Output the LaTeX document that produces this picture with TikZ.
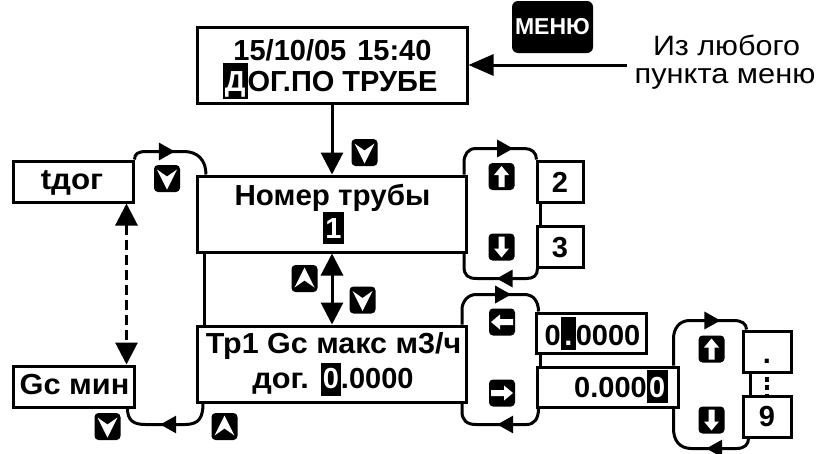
\documentclass[tikz,border=0pt]{standalone}
\usepackage{graphicx}
\usepackage{fontspec}
\setmainfont{Liberation Sans}
\usetikzlibrary{arrows.meta,calc,decorations.markings}
\newcommand\hlc[4]{\rlap{\rule[-#2]{#1}{\dimexpr#2+#3\relax}}\makebox[#1]{\color{white}#4}}
\newcommand\bigfont{\bfseries\fontsize{29}{31}\selectfont}
\newcommand\widen[2]{\scalebox{#1}[1]{#2}}
\begin{document}
\begin{tikzpicture}[x=1pt,y=-1pt,line width=3pt,
  box/.style={draw,line width=3pt,inner sep=0pt},
  txt/.style={anchor=base,inner sep=0pt,font=\bigfont},
  big/.style={-{Triangle[length=22pt,width=22pt]}},
  bigtwo/.style={{Triangle[length=22pt,width=22pt]}-{Triangle[length=22pt,width=22pt]}},
  la/.style={postaction={decorate,decoration={markings,mark=at position #1 with {\arrow{Triangle[length=16pt,width=17pt]}}}}},
  keybase/.style={fill=black,rounded corners=4pt,minimum width=26pt,minimum height=27pt,inner sep=0pt},
  kup/.style={keybase,path picture={\fill[white,sharp corners,shift={(path picture bounding box.center)}] (0,-10.5) -- (7.5,-1.5) -- (3,-1.5) -- (3,10.5) -- (-3,10.5) -- (-3,-1.5) -- (-7.5,-1.5) -- cycle;}},
  kdown/.style={keybase,path picture={\fill[white,sharp corners,shift={(path picture bounding box.center)}] (0,10.5) -- (7.5,1.5) -- (3,1.5) -- (3,-10.5) -- (-3,-10.5) -- (-3,1.5) -- (-7.5,1.5) -- cycle;}},
  kleft/.style={keybase,path picture={\fill[white,sharp corners,shift={(path picture bounding box.center)}] (-11,0) -- (-2,-7.5) -- (-2,-3) -- (11,-3) -- (11,3) -- (-2,3) -- (-2,7.5) -- cycle;}},
  kright/.style={keybase,path picture={\fill[white,sharp corners,shift={(path picture bounding box.center)}] (11,0) -- (2,-7.5) -- (2,-3) -- (-11,-3) -- (-11,3) -- (2,3) -- (2,7.5) -- cycle;}},
  kchdown/.style={keybase,path picture={\fill[white,sharp corners,shift={(path picture bounding box.center)}] (-10,-9) -- (0,-2) -- (10,-9) -- (0,11) -- cycle;}},
  kchup/.style={keybase,path picture={\fill[white,sharp corners,shift={(path picture bounding box.center)}] (-10,9) -- (0,2) -- (10,9) -- (0,-11) -- cycle;}}
]
\fill[white] (0,0) rectangle (817,453);
\useasboundingbox (0,0) rectangle (817,453);

% boxes
\node[box,minimum width=270pt,minimum height=76pt] (top) at (332,65) {};
\node[box,minimum width=269pt,minimum height=76pt] (nomer) at (332,214) {};
\node[box,minimum width=269pt,minimum height=76pt] (tp1) at (332,364) {};
\node[box,minimum width=120pt,minimum height=41pt] (tdog) at (73,181.5) {};
\node[box,minimum width=121pt,minimum height=41pt] (gcmin) at (73.5,386.5) {};
\node[box,minimum width=46pt,minimum height=41pt] (b2) at (560,181.5) {};
\node[box,minimum width=46pt,minimum height=41pt] (b3) at (560,246.5) {};
\node[box,minimum width=110pt,minimum height=40pt] (z1) at (591,333) {};
\node[box,minimum width=141pt,minimum height=40pt] (z2) at (607.5,387) {};
\node[box,minimum width=48pt,minimum height=41pt] (bdot) at (767,351.5) {};
\node[box,minimum width=48pt,minimum height=41pt] (b9) at (767,416.5) {};

% texts
\node[txt] (tl1) at (332.5,60) {15/10/05\hspace{11pt}15:40};
\node[txt] (tl2) at (330,91) {\hlc{25pt}{8pt}{28pt}{Д}ОГ.ПО ТРУБЕ};
\node[txt] (nl1) at (332.5,205) {\widen{1.02}{Номер трубы}};
\node[txt] (nl2) at (333.5,238) {\hlc{21pt}{6pt}{26pt}{1}};
\node[txt] (pl1) at (333.5,353) {\widen{1.05}{Тр1 Gc макс м3/ч}};
\node[txt] (pl2) at (333,388) {\widen{1.06}{дог.}\hspace{12pt}\hlc{20pt}{8pt}{25pt}{0}.0000};
\node[txt] (tdogt) at (72,189) {\widen{1.08}{tдог}};
\node[txt] (gct) at (74.5,394) {\widen{1.06}{Gc мин}};
\node[txt] (b2t) at (560,192) {2};
\node[txt] (b3t) at (560,257) {3};
\node[txt] (b9t) at (767,426) {9};
\node[txt] (bdt) at (767,363) {.};
\node[txt] (z1t) at (592.5,345) {0\hlc{15pt}{5pt}{28pt}{.}0000};
\node[txt] (z2t) at (621,397) {0.000\hlc{21pt}{6pt}{27pt}{0}};

% menu
\node[fill=black,rounded corners=6pt,minimum width=81pt,minimum height=52pt,inner sep=0pt,text=white,font=\bfseries\fontsize{23}{25}\selectfont] (menu) at (552.5,27) {МЕНЮ};
\node[anchor=base,inner sep=0pt,font=\fontsize{28}{30}\selectfont] (m1) at (726.5,55) {\widen{1.09}{Из любого}};
\node[anchor=base,inner sep=0pt,font=\fontsize{28}{30}\selectfont] (m2) at (725,83) {\widen{1.1}{пункта меню}};
\coordinate (msrc) at (627,65);

% keys
\node[kchdown] (k1) at (364.5,152.5) {};
\node[kchdown] (k2) at (167,178.5) {};
\node[kchup] (k3) at (304.5,278.5) {};
\node[kchdown] (k4) at (362.5,300) {};
\node[kchdown] (k5) at (107.5,426.5) {};
\node[kchup] (k6) at (224.5,426.5) {};
\node[kup] (k7) at (501.5,176.5) {};
\node[kdown] (k8) at (501.5,247) {};
\node[kleft] (k9) at (502,322) {};
\node[kright] (k10) at (502,393) {};
\node[kup] (k11) at (711.5,349) {};
\node[kdown] (k12) at (711.5,420) {};

% main connectors
\draw[-{Triangle[length=25pt,width=21pt]}] (msrc) -- (top.east);
\draw[big] (top.south) -- (nomer.north);
\draw[bigtwo] (nomer.south) -- (tp1.north);
\draw[bigtwo,dash pattern=on 10pt off 5pt] ($(tdog.south east)+(-8,0)$) -- ($(gcmin.north east)+(-9,0)$);
\draw ($(nomer.south west)+(8.5,0)$) -- ($(tp1.north west)+(8.5,0)$);
\draw ($(b2.south west)+(5,0)$) -- ($(b3.north west)+(5,0)$);
\draw ($(z1.south west)+(6,0)$) -- ($(z2.north west)+(5,0)$);
\draw ($(bdot.south west)+(9,0)$) -- ($(b9.north west)+(9,0)$);
\draw[line width=4pt,dash pattern=on 5pt off 3.5pt] ($(bdot.south)+(0,3)$) -- (b9.north);

% loops
\draw[la=45pt] (tdog.north east) .. controls +(0,-6) and +(-8,0) .. ++(12,-8) -- ($(nomer.north west)+(-12,-23)$) .. controls +(14,0) and +(0,-14) .. ($(nomer.north west)+(10,0)$);
\draw[la=57pt] ($(tp1.south west)+(7,0)$) .. controls +(0,14) and +(14,0) .. ++(-18,21) -- ($(gcmin.south east)+(10,16)$) .. controls +(-12,0) and +(0,12) .. ($(gcmin.south east)+(-8,0)$);
\draw[la=70pt] ($(nomer.north east)+(-4,0)$) -- ++(0,-12) .. controls +(0,-8) and +(-8,0) .. ++(12,-14) -- ($(b2.north west)+(-11,-11)$) .. controls +(7,0) and +(0,-7) .. ($(b2.north west)+(1,0)$);
\draw[la=47pt] ($(b3.south west)+(2,0)$) .. controls +(0,7) and +(7,0) .. ++(-11,10) -- ($(nomer.south east)+(9,25)$) .. controls +(-9,0) and +(0,9) .. ($(nomer.south east)+(-4,13)$) -- ($(nomer.south east)+(-4,0)$);
\draw[la=73pt] ($(tp1.north east)+(-6,0)$) -- ++(0,-15) .. controls +(0,-8) and +(-8,0) .. ++(14,-15) -- ($(z1.north west)+(-10,-17)$) .. controls +(9,0) and +(0,-10) .. ($(z1.north west)+(4,0)$);
\draw[la=52pt] ($(z2.south west)+(3,0)$) .. controls +(0,10) and +(8,0) .. ++(-12,16) -- ($(tp1.south east)+(8,21)$) .. controls +(-9,0) and +(0,9) .. ($(tp1.south east)+(-6,8)$) -- ($(tp1.south east)+(-6,0)$);
\draw[la=85pt] ($(z2.north east)+(-6,0)$) -- ++(0,-27) .. controls +(0,-10) and +(-10,0) .. ++(16,-18) -- ($(bdot.north west)+(-8,-9)$) .. controls +(8,0) and +(0,-6) .. ($(bdot.north west)+(5,0)$);
\draw[la=48pt] ($(b9.south west)+(7,0)$) .. controls +(0,6) and +(8,0) .. ++(-12,10) -- ($(z2.south east)+(12,40)$) .. controls +(-12,0) and +(0,12) .. ($(z2.south east)+(-6,20)$) -- ($(z2.south east)+(-6,0)$);
\end{tikzpicture}
\end{document}
